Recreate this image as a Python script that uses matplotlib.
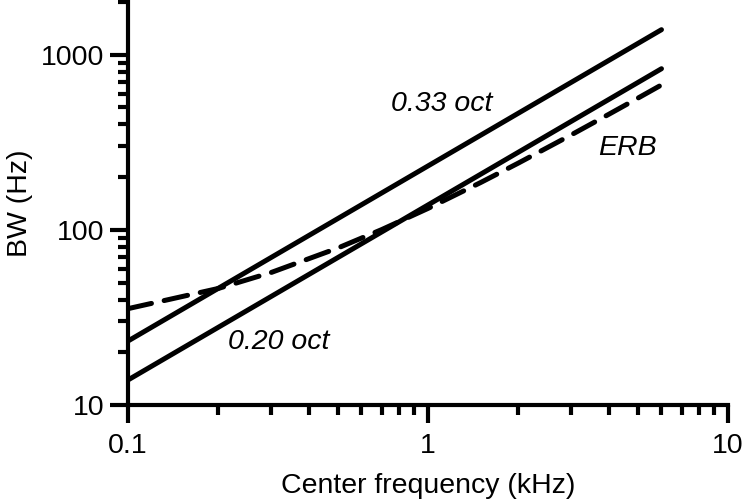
import matplotlib
matplotlib.use("Agg")
import matplotlib.pyplot as plt
from matplotlib.ticker import LogLocator, FixedLocator, FixedFormatter, NullFormatter

plt.rcParams['font.family'] = ['Liberation Sans', 'DejaVu Sans']

# center frequency (kHz) and bandwidth (Hz)
freq_line = [0.1, 6.0]
bw_033 = [23.2, 1390]
bw_020 = [13.9, 832]

freq_erb = [0.1, 0.2, 0.3, 0.5, 0.7, 1.0, 1.5, 2.0, 3.0, 4.0, 5.0, 6.0]
bw_erb = [35.5, 46.3, 57.1, 78.7, 100.3, 132.6, 186.6, 240.6, 348.5, 456.5, 564.4, 672.4]

x_ticks = [0.1, 1, 10]
x_labels = ['0.1', '1', '10']
y_ticks = [10, 100, 1000]
y_labels = ['10', '100', '1000']

fs = 20.5

fig = plt.figure(figsize=(7.5, 5.03), dpi=100)
ax = fig.add_axes([0.1707, 0.1948, 0.8, 0.8012])

ax.plot(freq_line, bw_033, color='black', lw=3.6, solid_capstyle='round')
ax.plot(freq_line, bw_020, color='black', lw=3.6, solid_capstyle='round')
ax.plot(freq_erb, bw_erb, color='black', lw=3.6, dashes=(4.8, 2.6), dash_capstyle='round')

ax.set_xscale('log')
ax.set_yscale('log')
ax.set_xlim(0.1, 10)
ax.set_ylim(10, 2000)

ax.xaxis.set_major_locator(FixedLocator(x_ticks))
ax.xaxis.set_major_formatter(FixedFormatter(x_labels))
ax.yaxis.set_major_locator(FixedLocator(y_ticks))
ax.yaxis.set_major_formatter(FixedFormatter(y_labels))
ax.xaxis.set_minor_locator(LogLocator(base=10, subs=range(2, 10)))
ax.yaxis.set_minor_locator(LogLocator(base=10, subs=range(2, 10)))
ax.xaxis.set_minor_formatter(NullFormatter())
ax.yaxis.set_minor_formatter(NullFormatter())

for s in ['top', 'right']:
    ax.spines[s].set_visible(False)
for s in ['left', 'bottom']:
    ax.spines[s].set_linewidth(3)

ax.tick_params(which='major', length=13, width=3, direction='out', labelsize=fs, pad=4)
ax.tick_params(axis='x', which='major', pad=7)
ax.tick_params(which='minor', length=7.5, width=3, direction='out')

ax.set_xlabel('Center frequency (kHz)', fontsize=fs, labelpad=10)
ax.set_ylabel('BW (Hz)', fontsize=fs, labelpad=6)

ax.text(0.75, 526, '0.33 oct', fontsize=fs, style='italic', ha='left', va='center')
ax.text(3.69, 295, 'ERB', fontsize=fs, style='italic', ha='left', va='center')
ax.text(0.215, 22.9, '0.20 oct', fontsize=fs, style='italic', ha='left', va='center')

fig.savefig('out.png', dpi=100)
